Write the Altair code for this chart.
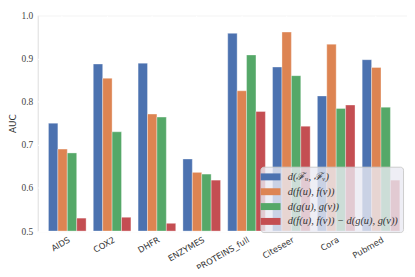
import altair as alt
import pandas as pd

categories = ["AIDS", "COX2", "DHFR", "ENZYMES", "PROTEINS_full", "Citeseer", "Cora", "Pubmed"]
series = ["d(ℱᵤ, ℱᵥ)", "d(f(u), f(v))", "d(g(u), g(v))", "d(f(u), f(v)) − d(g(u), g(v))"]
colors = ["#4C72B0", "#DD8452", "#55A868", "#C44E52"]

vals_F = [0.750, 0.887, 0.889, 0.667, 0.958, 0.880, 0.813, 0.897]
vals_f = [0.690, 0.854, 0.771, 0.636, 0.825, 0.961, 0.933, 0.879]
vals_g = [0.681, 0.730, 0.764, 0.632, 0.908, 0.860, 0.784, 0.787]
vals_diff = [0.530, 0.532, 0.518, 0.618, 0.777, 0.743, 0.792, 0.618]

rows = []
for s, vals in zip(series, [vals_F, vals_f, vals_g, vals_diff]):
    for c, v in zip(categories, vals):
        rows.append({"dataset": c, "measure": s, "auc": v})
df = pd.DataFrame(rows)

x_scale = alt.Scale(domain=categories, paddingInner=0.16, paddingOuter=0.2, align=0.6)
y_scale = alt.Scale(domain=[0.5, 1.0], zero=False, clamp=True)

chart = alt.Chart(df).mark_bar(
    stroke="white", strokeOpacity=0.35, strokeWidth=1
).encode(
    x=alt.X("dataset:N", sort=categories, scale=x_scale,
            axis=alt.Axis(title=None, labelAngle=-30,
                          labelPadding=4,
                          labelOverlap=False, labelLimit=200,
                          bandPosition=0.37, ticks=False, domain=False,
                          grid=True, gridColor="white", gridWidth=1.2,
                          labelFont="DejaVu Sans", labelFontSize=8.5,
                          labelColor="#333333")),
    xOffset=alt.XOffset("measure:N", sort=series,
                        scale=alt.Scale(domain=series, paddingInner=0, paddingOuter=0)),
    y=alt.Y("auc:Q", scale=y_scale,
            axis=alt.Axis(title="AUC", values=[0.5, 0.6, 0.7, 0.8, 0.9, 1.0],
                          format=".1f", ticks=False, domain=False,
                          grid=True, gridColor="white", gridWidth=1.2,
                          labelFont="Liberation Serif", labelFontSize=9.5,
                          labelColor="#444444", labelPadding=5,
                          titleFont="DejaVu Sans", titleFontSize=9,
                          titleFontWeight="normal", titleColor="#333333",
                          titlePadding=4)),
    color=alt.Color("measure:N", sort=series,
                    scale=alt.Scale(domain=series, range=colors),
                    legend=alt.Legend(
                        title=None, orient="none", legendX=225, legendY=153,
                        symbolType="M-2,-0.7L2,-0.7L2,0.7L-2,0.7Z",
                        symbolSize=100, symbolStrokeWidth=0, symbolOpacity=1,
                        labelFont="Liberation Serif", labelFontStyle="italic",
                        labelFontSize=10.5, labelColor="#333333",
                        labelOffset=12, rowPadding=4, padding=5,
                        fillColor="rgba(234,234,242,0.8)",
                        strokeColor="#cccccc", cornerRadius=3,
                        labelLimit=300)),
).properties(
    width=373, height=218,
    autosize=alt.AutoSizeParams(type="none"),
    padding={"left": 30, "top": 6, "right": 0, "bottom": 37},
).configure_axisX(
    labelAngle=-30
).configure_view(
    fill="#EAEAF2", strokeWidth=0
).configure(background="white")

chart.save("out.html", embed_options={"renderer": "svg", "actions": False})
